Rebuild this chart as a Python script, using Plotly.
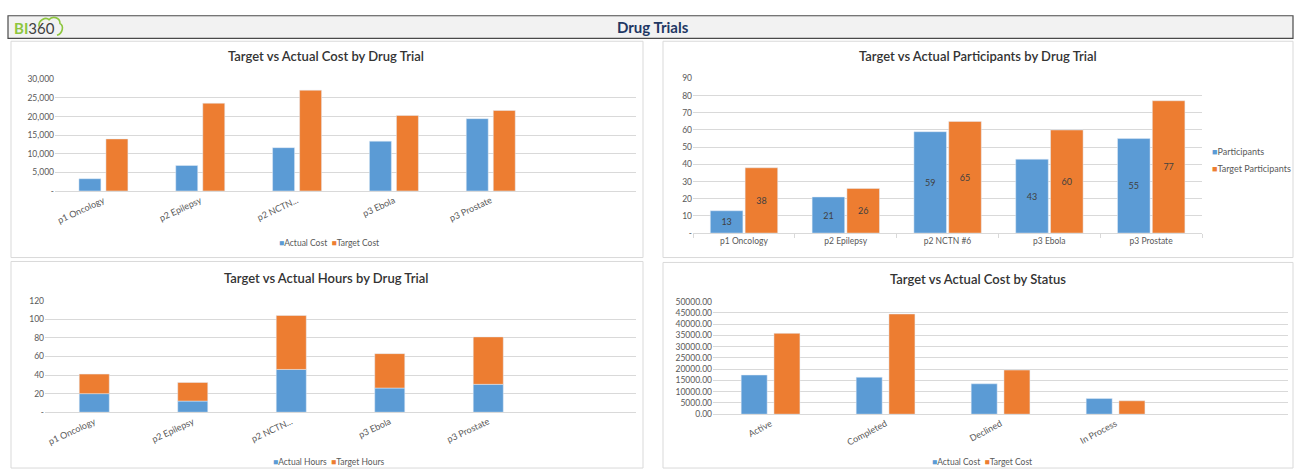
import plotly.graph_objects as go

W, H = 1296, 474

# ---------------- data ----------------
trials = ["p1 Oncology", "p2 Epilepsy", "p2 NCTN...", "p3 Ebola", "p3 Prostate"]
trials_full = ["p1 Oncology", "p2 Epilepsy", "p2 NCTN #6", "p3 Ebola", "p3 Prostate"]
actual_cost = [3300, 6850, 11650, 13400, 19450]
target_cost = [14000, 23600, 27100, 20300, 21650]
participants = [13, 21, 59, 43, 55]
target_participants = [38, 26, 65, 60, 77]
actual_hours = [20, 12, 46, 26, 30]
target_hours = [21, 20, 58, 37, 51]
statuses = ["Active", "Completed", "Declined", "In Process"]
status_actual_cost = [17400, 16400, 13500, 6950]
status_target_cost = [35900, 44500, 19600, 5950]

cost_ticks = [0, 5000, 10000, 15000, 20000, 25000, 30000]
participant_ticks = [0, 10, 20, 30, 40, 50, 60, 70, 80, 90]
hour_ticks = [0, 20, 40, 60, 80, 100, 120]
status_ticks = [0, 5000, 10000, 15000, 20000, 25000, 30000, 35000, 40000, 45000, 50000]

BLUE = "#5b9bd5"
ORANGE = "#ed7d31"
GRID = "#d9d9d9"
TXT = "#595959"
FONT = "Lato"


def px(x):
    return x / W


def py(y):
    return 1 - y / H


fig = go.Figure()

# Chart 1: cost by trial
fig.add_trace(go.Bar(x=trials, y=actual_cost, name="Actual Cost", marker_color=BLUE,
                     width=0.227, offset=-0.253, xaxis="x", yaxis="y"))
fig.add_trace(go.Bar(x=trials, y=target_cost, name="Target Cost", marker_color=ORANGE,
                     width=0.227, offset=0.026, xaxis="x", yaxis="y"))

# Chart 2: participants
lblfont = dict(color="#404040", size=9, family=FONT)
fig.add_trace(go.Bar(x=trials_full, y=participants, name="Participants", marker_color=BLUE,
                     width=0.32, offset=-0.33, text=participants, textposition="inside",
                     insidetextanchor="middle", textangle=0, constraintext="none",
                     textfont=lblfont, xaxis="x2", yaxis="y2"))
fig.add_trace(go.Bar(x=trials_full, y=target_participants, name="Target Participants",
                     marker_color=ORANGE, width=0.32, offset=0.012, text=target_participants,
                     textposition="inside", insidetextanchor="middle", textangle=0,
                     constraintext="none", textfont=lblfont, xaxis="x2", yaxis="y2"))

# Chart 3: hours (stacked)
fig.add_trace(go.Bar(x=trials, y=actual_hours, name="Actual Hours", marker_color=BLUE,
                     width=0.305, offset=-0.1525, xaxis="x3", yaxis="y3"))
fig.add_trace(go.Bar(x=trials, y=target_hours, base=actual_hours, name="Target Hours",
                     marker_color=ORANGE, width=0.305, offset=-0.1525,
                     xaxis="x3", yaxis="y3"))

# Chart 4: cost by status
fig.add_trace(go.Bar(x=statuses, y=status_actual_cost, name="Actual Cost", marker_color=BLUE,
                     width=0.226, offset=-0.255, xaxis="x4", yaxis="y4"))
fig.add_trace(go.Bar(x=statuses, y=status_target_cost, name="Target Cost", marker_color=ORANGE,
                     width=0.226, offset=0.03, xaxis="x4", yaxis="y4"))

tickfont = dict(family=FONT, size=8.5, color=TXT)
rotfont = dict(family=FONT, size=9, color=TXT)


def xax(x0, x1, y_anchor, rng, angle, ticks=""):
    return dict(domain=[px(x0), px(x1)], anchor=y_anchor, type="category", range=rng,
                tickangle=angle, tickfont=rotfont if angle else tickfont, showgrid=False,
                showline=True, linecolor=GRID, linewidth=1, ticks=ticks, ticklen=4,
                tickcolor=GRID, tickson="boundaries" if ticks else None, fixedrange=True)


def yax(y_top, y_bot, x_anchor, rng, vals, texts):
    return dict(domain=[py(y_bot), py(y_top)], anchor=x_anchor, range=rng,
                tickvals=vals, ticktext=texts, tickfont=tickfont, showgrid=True,
                gridcolor=GRID, gridwidth=1, zeroline=False, showline=False,
                ticks="", fixedrange=True)


def dash0(v, fmt):
    return "-" if v == 0 else fmt(v)


shapes = []


def rect(x0, y0, x1, y1, line="#d9d9d9", fill="rgba(0,0,0,0)", w=1):
    shapes.append(dict(type="rect", xref="paper", yref="paper", x0=px(x0), x1=px(x1),
                       y0=py(y1), y1=py(y0), line=dict(color=line, width=w),
                       fillcolor=fill, layer="below"))


# header
rect(8, 11, 1293, 34, line="#4a4a4a", fill="#f2f2f2", w=1.2)
# panels
rect(11, 37, 643, 258)
rect(663, 37, 1293, 258)
rect(11, 262, 643, 473)
rect(663, 263, 1293, 473)

# cloud outline of logo
cloud = [(39, 22), (38, 15), (46, 12), (49, 15), (52, 11), (60, 12), (60, 19),
         (64, 21), (63, 29), (57, 31)]
path = "M {},{} C {},{} {},{} {},{} C {},{} {},{} {},{} C {},{} {},{} {},{}".format(
    *[v for (a, b) in cloud for v in (px(a), py(b))])
shapes.append(dict(type="path", xref="paper", yref="paper", path=path,
                   line=dict(color="#8dc63f", width=1.6)))

annotations = []


def text(t, x, y, size, color, xanchor="center", weight="normal"):
    annotations.append(dict(text=t, x=px(x), y=py(y), xref="paper", yref="paper",
                            showarrow=False, xanchor=xanchor, yanchor="middle",
                            font=dict(family=FONT, size=size, color=color, weight=weight)))


text("Drug Trials", 653, 22, 15, "#1f3864", weight="bold")
text("Target vs Actual Cost by Drug Trial", 326, 52, 13, "#333333", weight=600)
text("Target vs Actual Participants by Drug Trial", 978, 52, 13, "#333333", weight=600)
text("Target vs Actual Hours by Drug Trial", 326, 279, 13, "#333333", weight=600)
text("Target vs Actual Cost by Status", 978, 280, 13, "#333333", weight=600)
text("<span style='color:#8dc63f'><b>BI</b></span>360", 12, 23, 15, "#404040", "left")


def legend_item(name, color):
    return "<span style='color:%s'>\u25a0</span>%s" % (color, name)


def legend_row(names, colors, x, y):
    t = "  ".join(legend_item(n, c) for n, c in zip(names, colors))
    text(t, x, y, 8.5, TXT)


legend_row([fig.data[0].name, fig.data[1].name], [BLUE, ORANGE], 329, 243)
legend_row([fig.data[4].name, fig.data[5].name], [BLUE, ORANGE], 328, 467)
legend_row([fig.data[6].name, fig.data[7].name], [BLUE, ORANGE], 982, 467)
text(legend_item(fig.data[2].name, BLUE), 1210, 150, 9, TXT, "left")
text(legend_item(fig.data[3].name, ORANGE), 1210, 167, 9, TXT, "left")

fig.update_layout(
    width=W, height=H, margin=dict(l=0, r=0, t=0, b=0),
    paper_bgcolor="white", plot_bgcolor="white",
    font=dict(family=FONT, color=TXT),
    barmode="group",
    showlegend=False,
    xaxis=xax(55, 636, "y", [-0.5, 5.5], -25),
    yaxis=yax(76, 190, "x", [0, 30000], cost_ticks,
              [dash0(v, lambda t: f"{t:,}") for v in cost_ticks]),
    xaxis2=xax(693, 1202, "y2", [-0.5, 4.5], 0, ticks="outside"),
    yaxis2=yax(75, 233, "x2", [0, 90], participant_ticks,
               [dash0(v, str) for v in participant_ticks]),
    xaxis3=xax(45, 636, "y3", [-0.5, 5.5], -25),
    yaxis3=yax(302, 416, "x3", [0, 120], hour_ticks,
               [dash0(v, str) for v in hour_ticks]),
    xaxis4=xax(713, 1288, "y4", [-0.5, 4.5], -28),
    yaxis4=yax(303, 418, "x4", [0, 50000], status_ticks,
               [f"{v:.2f}" for v in status_ticks]),
    shapes=shapes,
    annotations=annotations,
)

fig.write_html("out.html")
